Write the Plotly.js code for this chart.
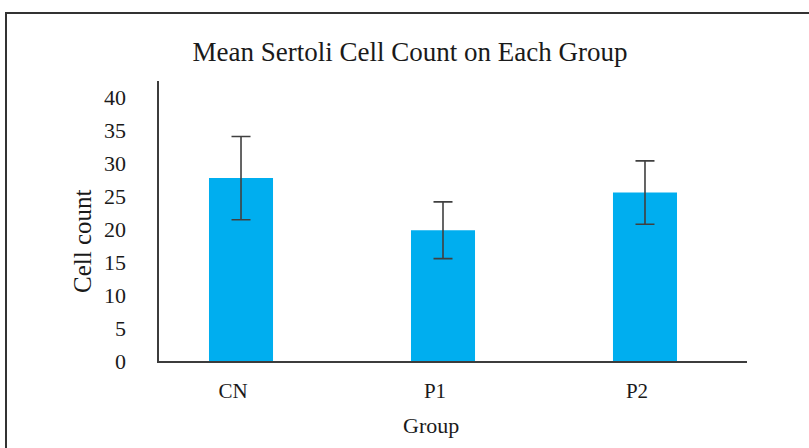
<!DOCTYPE html>
<html>
<head>
<meta charset="utf-8">
<script src="https://cdn.plot.ly/plotly-3.0.1.min.js"></script>
<style>
  html, body { margin: 0; padding: 0; background: #ffffff; }
  #chart { width: 809px; height: 448px; }
</style>
</head>
<body>
<div id="chart"></div>
<script>
// Data
const groups = ["CN", "P1", "P2"];
const meanCount = [27.7, 19.8, 25.5];
const errCount = [6.3, 4.3, 4.8];
const yTickValues = [0, 5, 10, 15, 20, 25, 30, 35, 40];

const W = 809, H = 448;
const plotL = 159, plotR = 747, plotT = 81, plotB = 361;
const pw = plotR - plotL, ph = plotB - plotT;
const px = v => (v - plotL) / pw;
const py = v => (plotB - v) / ph;

const serif = '"Liberation Serif", "Times New Roman", Times, serif';

const trace = {
  type: "bar",
  x: groups,
  y: meanCount,
  width: 0.317,
  marker: { color: "#00AEEF", line: { width: 0 } },
  error_y: {
    type: "data",
    array: errCount,
    visible: true,
    color: "#404040",
    thickness: 1.6,
    width: 9.5
  },
  hoverinfo: "x+y"
};

const layout = {
  width: W,
  height: H,
  margin: { l: plotL, r: W - plotR, t: plotT, b: H - plotB, pad: 0 },
  paper_bgcolor: "#ffffff",
  plot_bgcolor: "#ffffff",
  showlegend: false,
  font: { family: serif, color: "#1a1a1a", size: 21 },
  title: {
    text: "Mean Sertoli Cell Count on Each Group",
    font: { family: serif, size: 27, color: "#1a1a1a" },
    x: 410 / W,
    xanchor: "center",
    xref: "container",
    y: 1 - 52 / H,
    yanchor: "middle"
  },
  xaxis: {
    type: "category",
    range: [-0.406, 2.505],
    showline: true,
    linecolor: "#3c3c3c",
    linewidth: 1.6,
    showgrid: false,
    zeroline: false,
    ticks: "",
    ticklabelstandoff: 10,
    ticklabelshift: -8,
    tickfont: { family: serif, size: 21, color: "#1a1a1a" },
    fixedrange: true
  },
  yaxis: {
    range: [0, 42.4],
    tickmode: "array",
    tickvals: yTickValues,
    ticktext: yTickValues.map(String),
    showline: true,
    linecolor: "#3c3c3c",
    linewidth: 1.6,
    showgrid: false,
    zeroline: false,
    ticks: "",
    ticklabelstandoff: 27,
    tickfont: { family: serif, size: 22, color: "#1a1a1a" },
    fixedrange: true
  },
  annotations: [
    {
      text: "Cell count",
      textangle: -90,
      xref: "paper", yref: "paper",
      x: px(82), y: py(241),
      xanchor: "center", yanchor: "middle",
      showarrow: false,
      font: { family: serif, size: 25, color: "#1a1a1a" }
    },
    {
      text: "Group",
      xref: "paper", yref: "paper",
      x: px(431), y: py(425),
      xanchor: "center", yanchor: "middle",
      showarrow: false,
      font: { family: serif, size: 22, color: "#1a1a1a" }
    }
  ],
  shapes: [
    {
      type: "rect",
      xref: "paper", yref: "paper",
      x0: px(6), x1: px(816),
      y0: py(456), y1: py(13),
      line: { color: "#333333", width: 2 },
      fillcolor: "rgba(0,0,0,0)",
      layer: "below"
    }
  ]
};

Plotly.newPlot("chart", [trace], layout, { displayModeBar: false, staticPlot: true });
</script>
</body>
</html>
